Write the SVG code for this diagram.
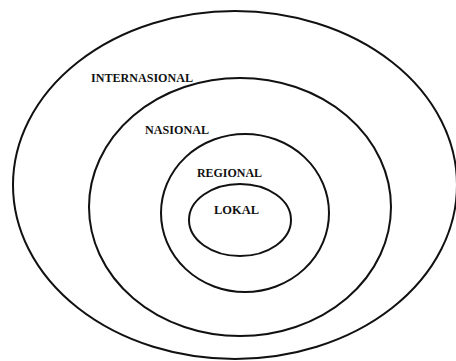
<svg xmlns="http://www.w3.org/2000/svg" width="456" height="361" viewBox="0 0 456 361">
<style>
.ring{fill:none;stroke:#111;stroke-width:2}
.lbl{font-family:"Liberation Serif","Times New Roman",serif;font-weight:bold;font-size:12px;fill:#111}
</style>
<rect width="456" height="361" fill="#fff"/>
<g id="internasional">
<ellipse class="ring" cx="235" cy="185" rx="222" ry="174"/>
<text class="lbl" x="91" y="82" textLength="102" lengthAdjust="spacingAndGlyphs">INTERNASIONAL</text>
</g>
<g id="nasional">
<ellipse class="ring" cx="240" cy="207" rx="151" ry="129"/>
<text class="lbl" x="145" y="134" textLength="64" lengthAdjust="spacingAndGlyphs">NASIONAL</text>
</g>
<g id="regional">
<ellipse class="ring" cx="245" cy="213" rx="84" ry="79"/>
<text class="lbl" x="197" y="177" textLength="65" lengthAdjust="spacingAndGlyphs">REGIONAL</text>
</g>
<g id="lokal">
<ellipse class="ring" cx="240" cy="220" rx="51" ry="36"/>
<text class="lbl" x="214" y="214" textLength="45" lengthAdjust="spacingAndGlyphs">LOKAL</text>
</g>
<g id="connectors"/>
</svg>
